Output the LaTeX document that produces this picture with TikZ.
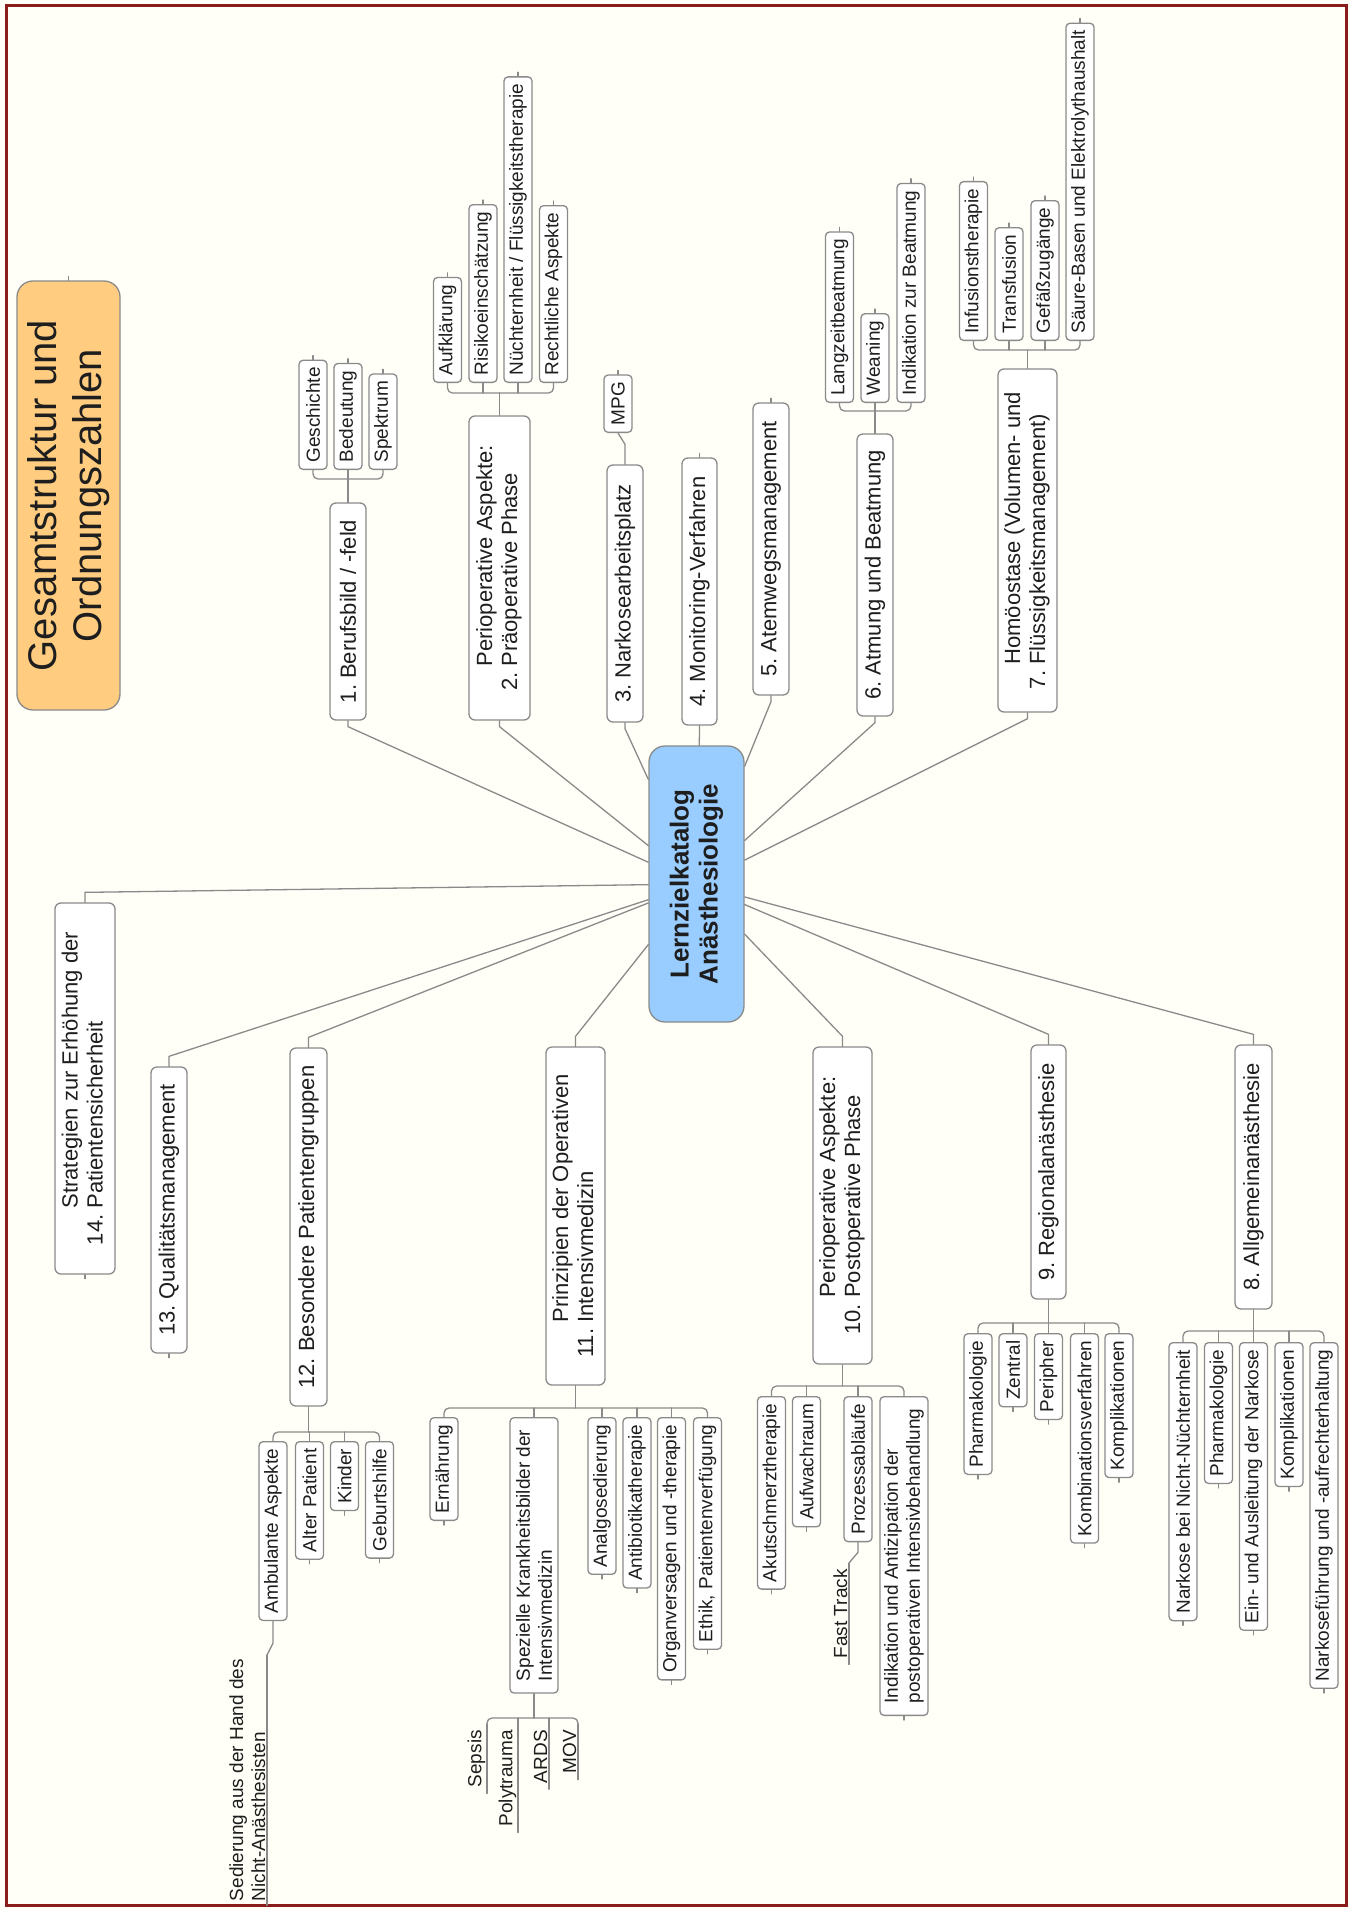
\documentclass[tikz,border=0pt]{standalone}
\usepackage{fontspec}
\setmainfont{Liberation Sans}
\definecolor{bgc}{HTML}{FFFFF7}
\definecolor{framec}{HTML}{8B1C1C}
\definecolor{lnc}{HTML}{8A8A8A}
\definecolor{boxc}{HTML}{8A8A8A}
\definecolor{txt}{HTML}{1E1E1E}
\definecolor{cfill}{HTML}{99CCFF}
\definecolor{tfill}{HTML}{FFCC80}
\begin{document}
\begin{tikzpicture}[x=1pt,y=-1pt,
  conn/.style={draw=lnc, line width=1.3pt, line cap=round, line join=round},
  bx/.style={rotate=90, draw=boxc, line width=1.3pt, fill=white, text=txt, inner sep=0pt, align=center},
  sz/.style 2 args={minimum width=#1pt, minimum height=#2pt},
  mtop/.style={bx, rounded corners=6pt, font=\fontsize{22}{25}\selectfont},
  sub/.style={bx, rounded corners=4pt, font=\fontsize{19}{22}\selectfont, inner xsep=7pt, minimum height=28pt},
  subtwo/.style={sub, align=left, inner xsep=12pt, minimum height=48pt},
  subT/.style={sub, anchor=west},
  subB/.style={sub, anchor=east},
  subBtwo/.style={subtwo, anchor=east},
  ul/.style={rotate=90, anchor=south east, text=txt, font=\fontsize{19}{22}\selectfont, inner xsep=6pt, inner ysep=1.5pt, align=left},
]
\fill[bgc] (0,0) rectangle (1350,1910);
\draw[framec, line width=3pt] (6,6) rectangle (1346,1905);
\useasboundingbox (0,0) rectangle (1350,1910);

% title and centre
\node[bx, fill=tfill, rounded corners=16pt, sz={429}{103}, font=\fontsize{40}{45}\selectfont] (title) at (68.5,495.5) {Gesamtstruktur und\\Ordnungszahlen};
\node[bx, fill=cfill, rounded corners=16pt, sz={276}{95}, font=\bfseries\fontsize{26}{29}\selectfont] (cen) at (696.5,884) {Lernzielkatalog\\Anästhesiologie};

% main topics
\node[mtop, sz={217}{36}] (n1) at (348,611.5) {1.\ Berufsbild / -feld};
\node[mtop, sz={304}{61}] (n2) at (499.5,568) {\begin{tabular}{@{}l@{\ }l@{}}&Perioperative Aspekte:\\2.&Präoperative Phase\end{tabular}};
\node[mtop, sz={257}{36}] (n3) at (625,593.5) {3.\ Narkosearbeitsplatz};
\node[mtop, sz={267}{35}] (n4) at (699.5,591.5) {4.\ Monitoring-Verfahren};
\node[mtop, sz={292}{36}] (n5) at (771,549) {5.\ Atemwegsmanagement};
\node[mtop, sz={282}{36}] (n6) at (875,575) {6.\ Atmung und Beatmung};
\node[mtop, sz={343}{59}] (n7) at (1027.5,540.5) {\begin{tabular}{@{}l@{\ }l@{}}&Homöostase (Volumen- und\\7.&Flüssigkeitsmanagement)\end{tabular}};
\node[mtop, sz={264}{37}] (n8) at (1253.5,1177) {8.\ Allgemeinanästhesie};
\node[mtop, sz={254}{35}] (n9) at (1048.5,1172) {9.\ Regionalanästhesie};
\node[mtop, sz={317}{59}] (n10) at (842.5,1205.5) {\begin{tabular}{@{}l@{\ }l@{}}&Perioperative Aspekte:\\10.&Postoperative Phase\end{tabular}};
\node[mtop, sz={338}{59}] (n11) at (575.5,1216) {\begin{tabular}{@{}l@{\ }l@{}}&Prinzipien der Operativen\\11.&Intensivmedizin\end{tabular}};
\node[mtop, sz={358}{37}] (n12) at (308.5,1227) {12.\ Besondere Patientengruppen};
\node[mtop, sz={286}{36}] (n13) at (169,1210) {13.\ Qualitätsmanagement};
\node[mtop, sz={371}{60}] (n14) at (85,1088.5) {\begin{tabular}{@{}l@{\ }l@{}}&Strategien zur Erhöhung der\\14.&Patientensicherheit\end{tabular}};

% sub topics, upper half
\node[subT] (s1a) at (313,470) {Geschichte};
\node[subT] (s1b) at (348,470) {Bedeutung};
\node[subT] (s1c) at (383,470) {Spektrum};
\coordinate (b1) at (348,479);
\node[subT] (s2a) at (447.5,383) {Aufklärung};
\node[subT] (s2b) at (483,383) {Risikoeinschätzung};
\node[subT] (s2c) at (518,383) {Nüchternheit / Flüssigkeitstherapie};
\node[subT] (s2d) at (553.5,383) {Rechtliche Aspekte};
\coordinate (b2) at (499.5,393);
\node[subT] (mpg) at (618,433) {MPG};
\node[subT] (s6a) at (839.5,403) {Langzeitbeatmung};
\node[subT] (s6b) at (875,403) {Weaning};
\node[subT] (s6c) at (911,403) {Indikation zur Beatmung};
\coordinate (b6) at (875,411);
\node[subT] (s7a) at (973.5,341) {Infusionstherapie};
\node[subT] (s7b) at (1009,341) {Transfusion};
\node[subT] (s7c) at (1045,341) {Gefäßzugänge};
\node[subT] (s7d) at (1080,341) {Säure-Basen und Elektrolythaushalt};
\coordinate (b7) at (1027.5,350);

% sub topics, lower half
\node[subB] (s8a) at (1183,1342) {Narkose bei Nicht-Nüchternheit};
\node[subB] (s8b) at (1218.5,1342) {Pharmakologie};
\node[subB] (s8c) at (1253.5,1342) {Ein- und Ausleitung der Narkose};
\node[subB] (s8d) at (1289,1342) {Komplikationen};
\node[subB] (s8e) at (1324,1342) {Narkoseführung und -aufrechterhaltung};
\coordinate (b8) at (1253.5,1331);
\node[subB] (s9a) at (978,1333) {Pharmakologie};
\node[subB] (s9b) at (1013,1333) {Zentral};
\node[subB] (s9c) at (1048.5,1333) {Peripher};
\node[subB] (s9d) at (1084.5,1333) {Kombinationsverfahren};
\node[subB] (s9e) at (1119,1333) {Komplikationen};
\coordinate (b9) at (1048.5,1323);
\node[subB] (s10a) at (771.5,1396) {Akutschmerztherapie};
\node[subB] (s10b) at (806.5,1396) {Aufwachraum};
\node[subB] (s10c) at (858,1396) {Prozessabläufe};
\node[subBtwo] (s10d) at (904,1396) {Indikation und Antizipation der\\postoperativen Intensivbehandlung};
\coordinate (b10) at (842.5,1386);
\node[subB] (s11a) at (444,1417) {Ernährung};
\node[subBtwo] (s11b) at (534,1417) {Spezielle Krankheitsbilder der\\Intensivmedizin};
\node[subB] (s11c) at (602,1417) {Analgosedierung};
\node[subB] (s11d) at (637,1417) {Antibiotikatherapie};
\node[subB] (s11e) at (671.5,1417) {Organversagen und -therapie};
\node[subB] (s11f) at (707.5,1417) {Ethik, Patientenverfügung};
\coordinate (b11) at (575.5,1408);
\node[subB] (s12a) at (273,1441) {Ambulante Aspekte};
\node[subB] (s12b) at (309.5,1441) {Alter Patient};
\node[subB] (s12c) at (344.5,1441) {Kinder};
\node[subB] (s12d) at (379.5,1441) {Geburtshilfe};
\coordinate (b12) at (308.5,1432);

% underlined leaves
\node[ul] (sep) at (487,1724) {Sepsis};
\node[ul] (pol) at (518,1724) {Polytrauma};
\node[ul] (ards) at (549,1724) {ARDS};
\node[ul] (mov) at (578,1724) {MOV};
\coordinate (bs) at (534,1718);
\node[ul] (ft) at (849,1563) {Fast Track};
\node[ul, inner xsep=4pt] (sed) at (267,1655) {Sedierung aus der Hand des\\Nicht-Anästhesisten};
\foreach \n in {sep,pol,ards,mov,ft,sed} \draw[conn] (\n.south east) -- (\n.south west);

% centre connectors
\foreach \n in {n1,n2,n3,n4,n5,n6,n7} \draw[conn] (\n.west) -- ++(0,6) -- (cen);
\foreach \n in {n8,n9,n10,n11,n12,n13,n14} \draw[conn] (\n.east) -- ++(0,-10) -- (cen);

% brackets upper half
\draw[conn, rounded corners=5pt] (s1a.west) -- (s1a.west |- b1) -- (s1c.west |- b1) -- (s1c.west);
\draw[conn] (s1b.west) -- (b1) -- (n1.east);
\draw[conn, rounded corners=5pt] (s2a.west) -- (s2a.west |- b2) -- (s2d.west |- b2) -- (s2d.west);
\foreach \n in {s2b,s2c} \draw[conn] (\n.west) -- (\n.west |- b2);
\draw[conn] (n2.east) -- (b2);
\draw[conn] (n3.east) -- ++(0,-20) -- (mpg.west);
\draw[conn, rounded corners=5pt] (s6a.west) -- (s6a.west |- b6) -- (s6c.west |- b6) -- (s6c.west);
\draw[conn] (s6b.west) -- (b6) -- (n6.east);
\draw[conn, rounded corners=5pt] (s7a.west) -- (s7a.west |- b7) -- (s7d.west |- b7) -- (s7d.west);
\foreach \n in {s7b,s7c} \draw[conn] (\n.west) -- (\n.west |- b7);
\draw[conn] (n7.east) -- (b7);

% brackets lower half
\draw[conn, rounded corners=5pt] (s8a.east) -- (s8a.east |- b8) -- (s8e.east |- b8) -- (s8e.east);
\foreach \n in {s8b,s8c,s8d} \draw[conn] (\n.east) -- (\n.east |- b8);
\draw[conn] (n8.west) -- (b8);
\draw[conn, rounded corners=5pt] (s9a.east) -- (s9a.east |- b9) -- (s9e.east |- b9) -- (s9e.east);
\foreach \n in {s9b,s9c,s9d} \draw[conn] (\n.east) -- (\n.east |- b9);
\draw[conn] (n9.west) -- (b9);
\draw[conn, rounded corners=5pt] (s10a.east) -- (s10a.east |- b10) -- (s10d.east |- b10) -- (s10d.east);
\foreach \n in {s10b,s10c} \draw[conn] (\n.east) -- (\n.east |- b10);
\draw[conn] (n10.west) -- (b10);
\draw[conn] (s10c.west) -- ++(0,10) -- (ft.south east);
\draw[conn, rounded corners=5pt] (s11a.east) -- (s11a.east |- b11) -- (s11f.east |- b11) -- (s11f.east);
\foreach \n in {s11b,s11c,s11d,s11e} \draw[conn] (\n.east) -- (\n.east |- b11);
\draw[conn] (n11.west) -- (b11);
\draw[conn, rounded corners=5pt] (sep.south east) -- (sep.south east |- bs) -- (mov.south east |- bs) -- (mov.south east);
\foreach \n in {pol,ards} \draw[conn] (\n.south east) -- (\n.south east |- bs);
\draw[conn] (s11b.west) -- (bs);
\draw[conn, rounded corners=5pt] (s12a.east) -- (s12a.east |- b12) -- (s12d.east |- b12) -- (s12d.east);
\foreach \n in {s12b,s12c} \draw[conn] (\n.east) -- (\n.east |- b12);
\draw[conn] (n12.west) -- (b12);
\draw[conn] (s12a.west) -- ++(0,22) -- (sed.south east);

% end ticks
\foreach \n in {title,s1a,s1b,s1c,s2a,s2b,s2c,s2d,mpg,n4,n5,s6a,s6b,s6c,s7a,s7b,s7c,s7d}
  \draw[conn] (\n.east) -- ++(0,-4);
\foreach \n in {n13,n14,s8a,s8b,s8c,s8d,s8e,s9a,s9b,s9c,s9d,s9e,s10a,s10b,s10d,s11a,s11c,s11d,s11e,s11f,s12b,s12c,s12d}
  \draw[conn] (\n.west) -- ++(0,4);
\end{tikzpicture}
\end{document}
